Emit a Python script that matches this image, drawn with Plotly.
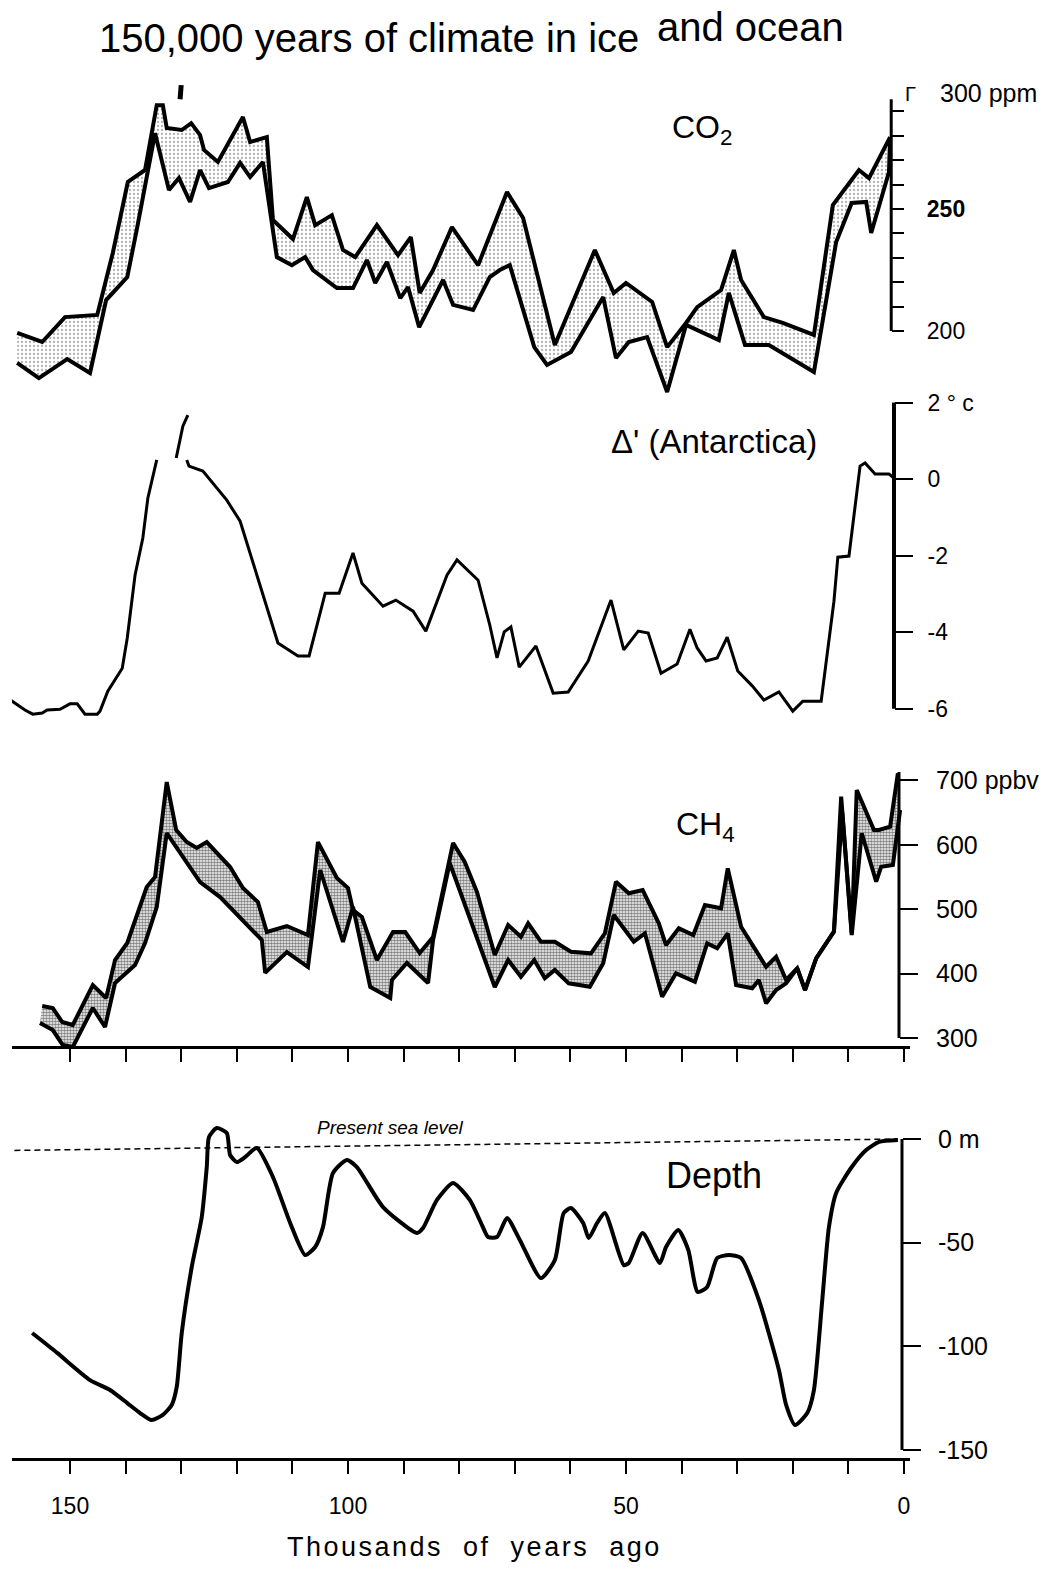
import plotly.graph_objects as go

# ---- data (time in thousands of years before present) ----
co2_upper_kyr = [159.5, 155.0, 150.9, 145.1, 142.3, 139.6, 136.5, 134.4, 133.3, 132.6, 129.9, 128.2, 126.6,
                 125.9, 123.4, 121.2, 118.9, 117.6, 114.6, 113.5, 109.9, 107.4, 105.9, 102.9, 100.9, 98.7,
                 94.8, 91.0, 88.7, 87.1, 84.7, 81.3, 76.6, 71.4, 68.5, 62.8, 55.6, 52.2, 50.0, 45.3, 42.6,
                 39.2, 37.2, 32.9, 30.6, 29.3, 25.2, 21.8, 16.2, 12.8, 8.1, 6.3, 2.5]
co2_upper = [199.2, 195.5, 205.7, 206.6, 232.0, 261.1, 266.0, 292.6, 292.6, 283.2, 282.4, 285.2, 280.3,
             274.2, 269.3, 278.3, 287.7, 277.5, 279.5, 245.5, 237.7, 254.9, 243.4, 247.5, 233.2, 230.3,
             243.4, 231.1, 238.5, 215.6, 225.0, 242.6, 227.0, 257.0, 246.3, 194.3, 233.2, 215.6, 219.7,
             211.9, 193.4, 203.3, 209.8, 216.8, 233.2, 220.9, 205.7, 203.3, 198.4, 251.6, 266.0, 262.7, 279.5]

co2_lower_kyr = [159.5, 155.6, 150.5, 146.4, 143.5, 139.7, 137.9, 134.7, 132.2, 130.4, 128.4, 126.6, 125.0,
                 121.6, 119.4, 117.6, 115.3, 112.8, 110.1, 107.7, 106.3, 102.0, 99.1, 96.6, 95.1, 93.0,
                 90.6, 89.2, 87.2, 82.9, 81.1, 77.5, 74.5, 72.7, 70.9, 66.5, 64.2, 59.9, 54.1, 51.8, 49.5,
                 46.2, 42.6, 39.2, 33.3, 31.5, 28.6, 24.3, 16.2, 12.2, 9.4, 6.8, 5.9, 2.7, 2.5]
co2_lower = [186.9, 180.7, 188.5, 182.8, 212.7, 222.1, 242.6, 281.1, 257.8, 262.7, 252.9, 266.0, 258.6,
             261.1, 268.9, 263.1, 269.3, 230.3, 227.0, 230.3, 225.0, 217.6, 217.6, 229.1, 219.7, 228.3,
             213.5, 218.0, 201.6, 220.9, 210.7, 208.6, 222.1, 225.0, 227.0, 193.4, 186.1, 191.4, 213.9,
             188.9, 195.5, 197.5, 175.0, 202.5, 196.3, 215.6, 194.3, 194.3, 183.2, 236.5, 252.5, 252.9,
             240.2, 265.2, 279.5]

# stray fragment of the CO2 curve above the frame
co2_spike_kyr = [130.2, 130.0]
co2_spike = [295.0, 300.8]

# Antarctic temperature (gaps where the scan breaks the curve)
temp_kyr = [161.2, 158.1, 156.7, 155.0, 154.1, 151.8, 150.0, 148.7, 147.3, 145.1, 144.6, 143.2, 140.6,
            139.7, 138.3, 136.9, 136.0, 134.4, None, 130.9, 129.7, 128.8, None, 129.0, 128.6, 126.1,
            123.6, 121.8, 119.4, 118.0, 116.4, 114.0, 112.6, 109.0, 107.0, 104.1, 101.6, 99.1, 97.5,
            93.7, 91.4, 88.3, 86.0, 82.2, 80.4, 76.6, 74.5, 73.2, 71.9, 70.7, 69.2, 66.2, 63.1, 60.4,
            56.8, 52.7, 50.4, 47.8, 46.0, 43.7, 40.8, 38.5, 37.2, 35.6, 33.6, 31.8, 29.9, 27.3, 25.2,
            22.5, 20.0, 18.2, 14.9, 12.6, 11.9, 9.9, 7.9, 7.0, 5.2, 2.7, 1.8]
temp = [-5.72, -6.03, -6.14, -6.11, -6.03, -6.01, -5.87, -5.87, -6.14, -6.14, -6.06, -5.54, -4.94,
        -4.15, -2.51, -1.54, -0.50, 0.50, None, 0.55, 1.38, 1.67, None, 0.50, 0.34, 0.21,
        -0.23, -0.55, -1.10, -1.75, -2.51, -3.63, -4.28, -4.62, -4.62, -2.98, -2.98, -1.93, -2.72,
        -3.32, -3.16, -3.45, -3.97, -2.51, -2.11, -2.64, -3.81, -4.67, -3.99, -3.86, -4.91, -4.36,
        -5.59, -5.56, -4.75, -3.16, -4.46, -3.97, -4.02, -5.07, -4.83, -3.92, -4.41, -4.75, -4.67,
        -4.13, -5.01, -5.40, -5.77, -5.56, -6.06, -5.80, -5.80, -3.19, -2.04, -2.01, 0.34, 0.42,
        0.13, 0.13, 0.03]

ch4_upper_kyr = [155.0, 153.1, 151.4, 149.5, 145.9, 143.5, 141.9, 139.7, 136.2, 134.7, 132.6, 130.9, 129.0,
                 127.2, 125.4, 121.2, 118.9, 116.2, 114.6, 111.0, 107.2, 105.4, 102.0, 100.0, 99.1, 97.5,
                 94.8, 91.9, 89.7, 87.1, 84.7, 81.1, 79.0, 76.8, 73.6, 71.2, 68.9, 67.6, 65.3, 62.8, 59.9,
                 56.3, 53.8, 51.8, 49.5, 47.0, 44.1, 42.8, 40.5, 37.9, 35.8, 32.9, 31.7, 29.3, 24.8, 23.0,
                 21.2, 19.2, 17.8, 15.8, 12.6, 11.3, 9.4, 8.5, 5.4, 4.5, 2.5, 1.1]
ch4_upper = [349.7, 346.6, 324.8, 320.2, 382.3, 362.1, 421.1, 447.5, 534.5, 550.0, 697.5, 623.0, 604.3,
             595.0, 604.3, 565.5, 532.9, 511.2, 464.6, 473.9, 459.9, 604.3, 548.4, 532.9, 498.8, 487.9,
             421.1, 464.6, 464.6, 432.0, 456.8, 602.8, 573.3, 526.7, 428.9, 475.5, 457.3, 478.1, 449.5,
             449.5, 434.0, 431.5, 462.6, 542.7, 524.7, 529.8, 478.1, 444.4, 470.3, 459.9, 506.5, 501.4,
             563.5, 472.8, 410.7, 426.2, 390.1, 408.2, 374.5, 423.8, 465.1, 674.7, 462.6, 685.1, 623.0,
             623.0, 628.1, 711.0]

ch4_lower_kyr = [155.4, 153.1, 151.3, 149.5, 145.9, 143.7, 141.9, 138.3, 136.5, 134.4, 132.6, 130.2, 126.6,
                 123.0, 119.4, 115.5, 114.9, 111.0, 107.2, 105.0, 100.9, 99.1, 96.0, 92.4, 92.1, 89.4,
                 85.6, 84.7, 81.7, 73.6, 71.2, 68.9, 66.5, 64.6, 62.8, 60.3, 56.5, 54.1, 52.2, 48.6, 46.6,
                 43.5, 41.0, 37.6, 35.4, 33.6, 31.7, 30.2, 27.3, 26.1, 24.8, 23.0, 21.2, 19.2, 17.8, 15.8,
                 12.6, 11.1, 9.4, 7.6, 5.0, 4.1, 2.0, 0.7]
ch4_lower = [323.3, 312.4, 289.1, 286.0, 346.6, 317.1, 385.4, 413.4, 447.5, 503.4, 618.3, 587.3, 542.2,
             518.9, 486.3, 452.2, 401.1, 433.5, 410.2, 560.9, 449.1, 503.4, 379.2, 362.1, 390.1, 416.5,
             385.4, 452.2, 571.7, 379.2, 421.1, 395.2, 421.1, 392.7, 405.6, 384.9, 379.7, 416.0, 491.0,
             449.5, 462.6, 364.1, 400.5, 387.4, 447.0, 439.3, 462.6, 382.3, 377.2, 390.1, 353.9, 374.5,
             384.9, 408.2, 374.5, 423.8, 465.1, 650.0, 460.0, 617.9, 542.7, 566.0, 568.6, 654.0]

depth_kyr = [156.8, 152.3, 146.4, 142.8, 139.7, 137.4, 135.3, 133.3, 131.7, 130.8, 129.9, 128.1, 126.3,
             125.4, 125.0, 123.6, 121.8, 121.2, 120.0, 118.5, 116.4, 113.5, 110.4, 107.7, 105.9, 104.5,
             102.7, 100.2, 98.4, 93.7, 87.6, 86.5, 84.0, 81.1, 78.1, 75.9, 74.8, 73.2, 71.4, 69.1, 65.3,
             62.8, 61.2, 59.9, 57.7, 56.7, 55.2, 53.8, 50.4, 49.5, 47.0, 43.9, 42.8, 40.6, 38.8, 37.1,
             35.4, 33.6, 31.5, 29.3, 26.1, 22.5, 21.2, 19.6, 17.4, 16.2, 14.7, 13.5, 12.2, 9.4, 6.8, 4.5, 1.1]
depth = [-93.6, -103.2, -116.3, -121.1, -127.4, -132.2, -135.6, -133.1, -128.3, -119.6, -93.6, -61.7,
         -37.6, -13.5, 1.0, 5.3, 2.9, -7.7, -11.1, -8.7, -4.3, -18.3, -40.5, -56.0, -52.1, -42.5, -16.4,
         -10.1, -13.5, -32.8, -45.3, -42.9, -29.4, -21.2, -29.4, -41.5, -47.3, -47.3, -38.1, -48.7,
         -67.1, -58.4, -35.7, -33.3, -40.5, -47.8, -40.5, -35.7, -60.8, -59.8, -45.3, -59.8, -52.1,
         -43.9, -53.5, -73.8, -71.4, -57.4, -56.0, -57.4, -77.7, -111.4, -128.3, -138.0, -132.2,
         -121.1, -77.7, -42.5, -26.0, -13.5, -5.3, -1.4, -0.5]

sea_level_kyr = [160.0, 1.1]
sea_level = [-5.5, 0.0]

# axis ticks / labels
age_ticks = list(range(0, 151, 10))
age_labels = [str(t) if t % 50 == 0 else "" for t in age_ticks]
co2_ticks = list(range(200, 291, 10))
co2_labels = ["200" if t == 200 else "<b>250</b>" if t == 250 else "" for t in co2_ticks]
temp_ticks = [2, 0, -2, -4, -6]
temp_labels = ["2 ° c", "0", "-2", "-4", "-6"]
ch4_ticks = [700, 600, 500, 400, 300]
ch4_labels = ["700 ppbv", "600", "500", "400", "300"]
depth_ticks = [0, -50, -100, -150]
depth_labels = ["0 m", "-50", "-100", "-150"]

# where each panel's own vertical scale sits (kyr) and how far it runs
co2_spine_kyr, co2_spine = 2.3, [200, 295]
temp_spine_kyr, temp_spine = 1.8, [-6, 2]
ch4_spine_kyr, ch4_spine = 0.9, [300, 713]
depth_spine_kyr, depth_spine = 0.36, [0, -150]

# ---- geometry ----
W, H = 1042, 1570
PL, PR = 12, 910
X_RANGE = [160.43, -1.08]
FONT = "Liberation Sans, Arial, sans-serif"


def dom(top, bottom):
    return [1 - bottom / H, 1 - top / H]


def ax(px):
    return (px - PL) / (PR - PL)


def ay(py):
    return 1 - py / H


def xpos(kyr):
    return (X_RANGE[0] - kyr) / (X_RANGE[0] - X_RANGE[1])


def line(x, y, ya, width, xa="x", **kw):
    return go.Scatter(x=x, y=y, xaxis=xa, yaxis=ya, mode="lines",
                      line=dict(color="black", width=width, **kw.pop("line_extra", {})),
                      hoverinfo="skip", showlegend=False, **kw)


fig = go.Figure()

# CO2 band
fig.add_trace(line(co2_lower_kyr, co2_lower, "y4", 4))
fig.add_trace(line(co2_upper_kyr, co2_upper, "y4", 4, fill="tonexty", fillcolor="white",
                   fillpattern=dict(shape=".", fgcolor="#666", bgcolor="white", size=4, solidity=0.25)))
fig.add_trace(line(co2_spike_kyr, co2_spike, "y4", 5))
fig.add_trace(line([co2_spine_kyr] * 2, co2_spine, "y4", 3))

# temperature
fig.add_trace(line(temp_kyr, temp, "y2", 3))
fig.add_trace(line([temp_spine_kyr] * 2, temp_spine, "y2", 4))

# CH4 band
fig.add_trace(line(ch4_lower_kyr, ch4_lower, "y3", 4, xa="x2"))
fig.add_trace(line(ch4_upper_kyr, ch4_upper, "y3", 4, xa="x2", fill="tonexty", fillcolor="white",
                   fillpattern=dict(shape=".", fgcolor="black", bgcolor="white", size=3, solidity=0.6)))
fig.add_trace(line([ch4_spine_kyr] * 2, ch4_spine, "y3", 3, xa="x2"))

# sea level
fig.add_trace(line(sea_level_kyr, sea_level, "y", 1.5, line_extra=dict(dash="6px,4px")))
fig.add_trace(line(depth_kyr, depth, "y", 4, line_extra=dict(shape="spline", smoothing=0.6)))
fig.add_trace(line([depth_spine_kyr] * 2, depth_spine, "y", 3))


def tfont(size):
    return dict(family=FONT, size=size, color="black")


def yax(domain, rng, spine_kyr, tickvals, ticktext, ticklen, standoff, size):
    return dict(domain=domain, range=rng, anchor="free", position=xpos(spine_kyr), side="right",
                tickvals=tickvals, ticktext=ticktext, ticks="outside", ticklen=ticklen, tickwidth=2,
                tickcolor="black", tickfont=tfont(size), ticklabelstandoff=standoff,
                showline=False, showgrid=False, zeroline=False, automargin=False)


fig.update_layout(
    width=W, height=H,
    margin=dict(l=PL, r=W - PR, t=0, b=0, autoexpand=False),
    paper_bgcolor="white", plot_bgcolor="white",
    showlegend=False,
    xaxis=dict(domain=[0, 1], range=X_RANGE, anchor="y", showline=True, linewidth=3, linecolor="black",
               ticks="outside", tickvals=age_ticks, ticktext=age_labels, ticklen=13, tickwidth=2,
               tickcolor="black", tickfont=tfont(23), ticklabelstandoff=12,
               showgrid=False, zeroline=False, automargin=False),
    xaxis2=dict(domain=[0, 1], matches="x", anchor="y3", showline=True, linewidth=3, linecolor="black",
                ticks="outside", tickvals=age_ticks, ticklen=13, tickwidth=2, tickcolor="black",
                showticklabels=False, showgrid=False, zeroline=False),
    yaxis=yax(dom(1115, 1458), [-153.9, 11.6], depth_spine_kyr, depth_ticks, depth_labels, 18, 12, 25),
    yaxis2=yax(dom(396, 723), [-6.37, 2.17], temp_spine_kyr, temp_ticks, temp_labels, 18, 10, 23),
    yaxis3=yax(dom(768, 1046), [287.6, 719.3], ch4_spine_kyr, ch4_ticks, ch4_labels, 18, 13, 25),
    yaxis4=yax(dom(80, 402), [170.9, 302.9], co2_spine_kyr, co2_ticks, co2_labels, 12, 18, 23),
)

notes = [
    dict(text="150,000 years of climate in ice", x=ax(97), y=ay(38), xanchor="left", size=40),
    dict(text="and ocean", x=ax(655), y=ay(27), xanchor="left", size=40),
    dict(text="Γ", x=ax(903), y=ay(94), xanchor="left", size=20),
    dict(text="300 ppm", x=ax(938), y=ay(93), xanchor="left", size=25),
    dict(text="CO<sub>2</sub>", x=ax(702), y=ay(130), xanchor="center", size=32),
    dict(text="Δ' (Antarctica)", x=ax(714), y=ay(441), xanchor="center", size=33),
    dict(text="CH<sub>4</sub>", x=ax(705), y=ay(826), xanchor="center", size=32),
    dict(text="Depth", x=ax(714), y=ay(1175), xanchor="center", size=36),
    dict(text="<i>Present sea level</i>", x=ax(390), y=ay(1127), xanchor="center", size=19),
    dict(text='<span style="letter-spacing:2.5px">Thousands  of  years  ago</span>',
         x=ax(475), y=ay(1547), xanchor="center", size=27),
]
for n in notes:
    fig.add_annotation(text=n["text"], x=n["x"], y=n["y"], xref="paper", yref="paper",
                       xanchor=n["xanchor"], yanchor="middle", showarrow=False,
                       font=dict(family=FONT, size=n["size"], color="black"))

# the page body has a default 8px margin; drop it so the figure fills the window exactly
fig.write_html("out.html", config={"displayModeBar": False},
               post_script="document.body.style.margin='0';")
